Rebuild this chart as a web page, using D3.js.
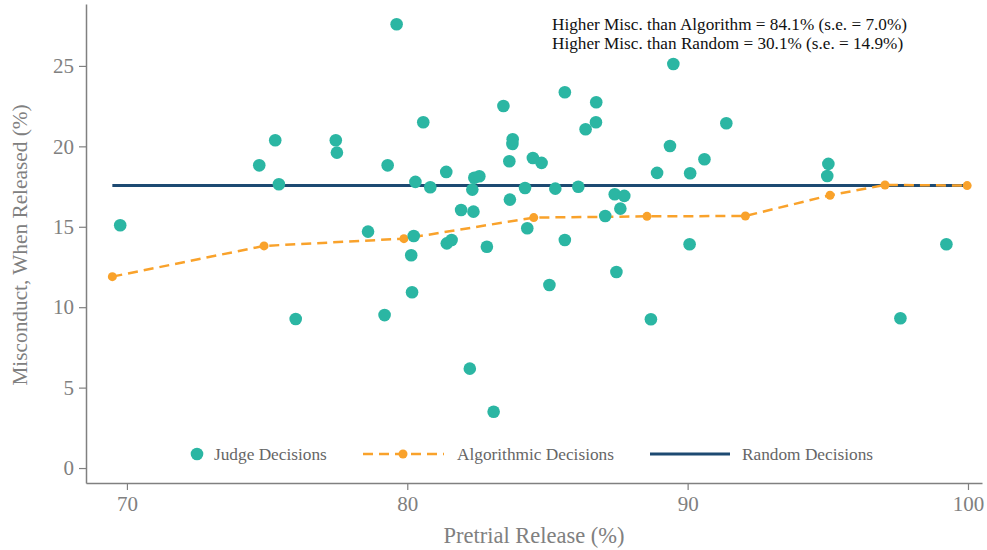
<!DOCTYPE html>
<html>
<head>
<meta charset="utf-8">
<style>
  body { margin: 0; background: #fff; }
  svg text { font-family: "Liberation Serif", "Times New Roman", serif; }
</style>
</head>
<body>
<script src="https://d3js.org/d3.v7.min.js"></script>
<script>
    // judge decisions: pretrial release (%) vs misconduct (%)
    var judgeRelease = [69.76, 74.72, 75.29, 75.42, 76.02, 77.45, 77.49, 78.60, 79.19, 79.30,
        79.62, 80.14, 80.17, 80.23, 80.29, 80.57, 80.82, 81.39, 81.41, 81.58,
        81.92, 82.23, 82.32, 82.36, 82.39, 82.57, 82.84, 83.08, 83.43, 83.64,
        83.66, 83.75, 83.76, 84.20, 84.28, 84.48, 84.79, 85.07, 85.28, 85.62,
        85.62, 86.10, 86.36, 86.73, 86.74, 87.06, 87.40, 87.46, 87.60, 87.74,
        88.69, 88.91, 89.37, 89.49, 90.07, 90.09, 90.60, 91.38, 94.98, 95.02,
        97.59, 99.23];
    var judgeMisc = [15.09, 18.82, 20.38, 17.64, 9.27, 20.38, 19.61, 14.70, 9.51, 18.82,
        27.59, 13.23, 10.93, 14.43, 17.79, 21.50, 17.46, 18.41, 13.97, 14.18,
        16.04, 6.18, 17.31, 15.94, 18.05, 18.14, 13.76, 3.50, 22.51, 19.07,
        16.69, 20.15, 20.44, 17.41, 14.91, 19.28, 18.97, 11.38, 17.37, 23.36,
        14.18, 17.49, 21.06, 21.50, 22.74, 15.67, 17.02, 12.19, 16.13, 16.92,
        9.25, 18.35, 20.02, 25.12, 13.91, 18.33, 19.20, 21.44, 18.16, 18.91,
        9.31, 13.91];

    // algorithmic decisions
    var algoRelease = [69.48, 74.89, 79.88, 84.51, 88.55, 92.06, 95.08, 97.04, 99.97];
    var algoMisc = [11.90, 13.81, 14.26, 15.57, 15.65, 15.67, 16.96, 17.60, 17.56];

    // random decisions
    var randomRelease = [69.48, 99.97];
    var randomMisc = [17.56, 17.56];

    var xTicks = [70, 80, 90, 100];
    var yTicks = [0, 5, 10, 15, 20, 25];
    var notes = ["Higher Misc. than Algorithm = 84.1% (s.e. = 7.0%)",
        "Higher Misc. than Random = 30.1% (s.e. = 14.9%)"];
    var legendLabels = ["Judge Decisions", "Algorithmic Decisions", "Random Decisions"];

    var width = 987, height = 550;
    var teal = "#2bb6a3", orange = "#f9a22b", navy = "#1d4a72", grey = "#808080";

    var svg = d3.select('body').append('svg').attr('width', width).attr('height', height);

    var x = d3.scaleLinear().domain([68.54, 100.5]).range([86, 982]);
    var y = d3.scaleLinear().domain([-0.93, 28.85]).range([483, 4]);

    // axes
    var xAxis = svg.append('g').attr('transform', 'translate(0,483)')
        .call(d3.axisBottom(x).tickValues(xTicks).tickSize(7).tickPadding(6).tickSizeOuter(0));
    var yAxis = svg.append('g').attr('transform', 'translate(86,0)')
        .call(d3.axisLeft(y).tickValues(yTicks).tickSize(7).tickPadding(5).tickSizeOuter(0));

    [xAxis, yAxis].forEach(function (a) {
        a.select('.domain').attr('stroke', grey).attr('stroke-width', 1.5);
        a.selectAll('.tick line').attr('stroke', grey).attr('stroke-width', 1.2);
        a.selectAll('.tick text').attr('fill', grey).style('font-size', '21px')
            .style('font-family', '"Liberation Serif", serif');
    });

    svg.append('text').attr('x', 534).attr('y', 543).attr('text-anchor', 'middle')
        .attr('fill', grey).style('font-size', '22.5px').text('Pretrial Release (%)');
    svg.append('text').attr('transform', 'translate(27,245) rotate(-90)').attr('text-anchor', 'middle')
        .attr('fill', grey).style('font-size', '21.3px').text('Misconduct, When Released (%)');

    // random line
    var line = d3.line().x(function (d) { return x(d[0]); }).y(function (d) { return y(d[1]); });
    svg.append('path').datum(d3.zip(randomRelease, randomMisc))
        .attr('d', line).attr('fill', 'none').attr('stroke', navy).attr('stroke-width', 3);

    // algorithmic line + dots
    var algo = d3.zip(algoRelease, algoMisc);
    svg.append('path').datum(algo)
        .attr('d', line).attr('fill', 'none').attr('stroke', orange)
        .attr('stroke-width', 2.5).attr('stroke-dasharray', '10,6');
    svg.append('g').selectAll('circle').data(algo).join('circle')
        .attr('cx', function (d) { return x(d[0]); })
        .attr('cy', function (d) { return y(d[1]); })
        .attr('r', 4.5).attr('fill', orange);

    // judge points
    svg.append('g').selectAll('circle').data(d3.zip(judgeRelease, judgeMisc)).join('circle')
        .attr('cx', function (d) { return x(d[0]); })
        .attr('cy', function (d) { return y(d[1]); })
        .attr('r', 6.3).attr('fill', teal);

    // annotation
    svg.append('g').selectAll('text').data(notes).join('text')
        .attr('x', 552).attr('y', function (d, i) { return 30 + i * 18.5; })
        .attr('fill', '#111').style('font-size', '17.2px')
        .text(function (d) { return d; });

    // legend
    var lg = svg.append('g').attr('transform', 'translate(0,454)');
    lg.append('circle').attr('cx', 197).attr('cy', 0).attr('r', 6.3).attr('fill', teal);
    lg.append('line').attr('x1', 363).attr('x2', 444).attr('y1', 0).attr('y2', 0)
        .attr('stroke', orange).attr('stroke-width', 2.5).attr('stroke-dasharray', '10,6');
    lg.append('circle').attr('cx', 403).attr('cy', 0).attr('r', 4.5).attr('fill', orange);
    lg.append('line').attr('x1', 650).attr('x2', 730).attr('y1', 0).attr('y2', 0)
        .attr('stroke', navy).attr('stroke-width', 3);
    lg.selectAll('text.lab').data(legendLabels).join('text').attr('class', 'lab')
        .attr('x', function (d, i) { return [214, 457, 742][i]; })
        .attr('y', 6).attr('fill', '#666').style('font-size', '17.3px')
        .text(function (d) { return d; });
</script>
</body>
</html>
